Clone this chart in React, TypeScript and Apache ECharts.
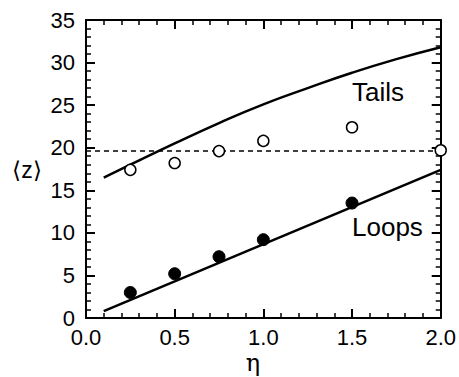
import React, { useEffect, useRef } from "react";
import * as echarts from "echarts";

const etaTails = [0.25, 0.5, 0.75, 1.0, 1.5, 2.0];
const zTails = [17.4, 18.2, 19.6, 20.8, 22.4, 19.7];
const etaLoops = [0.25, 0.5, 0.75, 1.0, 1.5];
const zLoops = [3.0, 5.2, 7.2, 9.2, 13.5];
const etaTailsCurve = [0.1, 0.25, 0.5, 0.75, 1.0, 1.25, 1.5, 1.75, 2.0];
const zTailsCurve = [16.5, 18.0, 20.5, 22.9, 25.1, 27.0, 28.8, 30.4, 31.8];
const etaLoopsLine = [0.1, 2.0];
const zLoopsLine = [0.8, 17.4];
const etaDashed = [0, 2.0];
const zDashed = [19.6, 19.6];

const zip = (a: number[], b: number[]) => a.map((v, i) => [v, b[i]]);

const FONT = "'Liberation Sans', Arial, Helvetica, sans-serif";

export default function App() {
  const ref = useRef<HTMLDivElement>(null);
  useEffect(() => {
    if (!ref.current) return;
    const chart = echarts.init(ref.current, null, { renderer: "svg" });
    const axisCommon = {
      type: "value" as const,
      axisLine: { show: true, onZero: false, lineStyle: { color: "#000", width: 2 } },
      axisTick: { show: true, inside: true, length: 9, lineStyle: { color: "#000", width: 2 } },
      minorTick: { show: true, splitNumber: 5, length: 5, lineStyle: { color: "#000", width: 1.5 } },
      splitLine: { show: false },
      minorSplitLine: { show: false },
    };
    chart.setOption({
      animation: false,
      backgroundColor: "#fff",
      grid: { left: 86, top: 20, right: 18, bottom: 59, containLabel: false },
      xAxis: [
        {
          ...axisCommon,
          min: 0,
          max: 2,
          interval: 0.5,
          position: "bottom",
          axisLabel: {
            color: "#000",
            fontSize: 22,
            fontFamily: FONT,
            margin: 8,
            formatter: (v: number) => v.toFixed(1),
          },
        },
        {
          ...axisCommon,
          min: 0,
          max: 2,
          interval: 0.5,
          position: "top",
          axisLabel: { show: false },
        },
      ],
      yAxis: [
        {
          ...axisCommon,
          min: 0,
          max: 35,
          interval: 5,
          position: "left",
          axisLabel: { color: "#000", fontSize: 22, fontFamily: FONT, margin: 11 },
        },
        {
          ...axisCommon,
          min: 0,
          max: 35,
          interval: 5,
          position: "right",
          axisLabel: { show: false },
        },
      ],
      series: [
        {
          type: "line",
          data: zip(etaDashed, zDashed),
          showSymbol: false,
          symbol: "none",
          lineStyle: { color: "#000", width: 1.5, type: [5, 4] },
          z: 1,
        },
        {
          type: "line",
          data: zip(etaTailsCurve, zTailsCurve),
          smooth: true,
          symbol: "none",
          lineStyle: { color: "#000", width: 2.5 },
          z: 2,
        },
        {
          type: "line",
          data: zip(etaLoopsLine, zLoopsLine),
          symbol: "none",
          lineStyle: { color: "#000", width: 2.5 },
          z: 2,
        },
        {
          type: "scatter",
          data: zip(etaTails, zTails),
          symbol: "circle",
          symbolSize: 11,
          itemStyle: { color: "#fff", borderColor: "#000", borderWidth: 1.5, opacity: 1 },
          z: 5,
        },
        {
          type: "scatter",
          data: zip(etaLoops, zLoops),
          symbol: "circle",
          symbolSize: 12,
          itemStyle: { color: "#000", borderColor: "#000", borderWidth: 1, opacity: 1 },
          z: 5,
        },
      ],
      graphic: [
        {
          type: "text",
          x: 352,
          y: 92,
          style: { text: "Tails", fontSize: 26, fontFamily: FONT, fill: "#000", textAlign: "left", textVerticalAlign: "middle" },
        },
        {
          type: "text",
          x: 352,
          y: 227,
          style: { text: "Loops", fontSize: 26, fontFamily: FONT, fill: "#000", textAlign: "left", textVerticalAlign: "middle" },
        },
        {
          type: "text",
          x: 27,
          y: 170,
          style: { text: "⟨z⟩", fontSize: 23, fontFamily: FONT, fill: "#000", textAlign: "center", textVerticalAlign: "middle" },
        },
        {
          type: "text",
          x: 253,
          y: 363,
          style: { text: "η", fontSize: 24, fontFamily: "'DejaVu Serif', 'Liberation Serif', serif", fill: "#000", textAlign: "center", textVerticalAlign: "middle" },
        },
      ],
    });
    return () => chart.dispose();
  }, []);
  return (
    <div
      ref={ref}
      style={{ position: "fixed", left: 0, top: 0, width: 459, height: 377, background: "#fff" }}
    />
  );
}
